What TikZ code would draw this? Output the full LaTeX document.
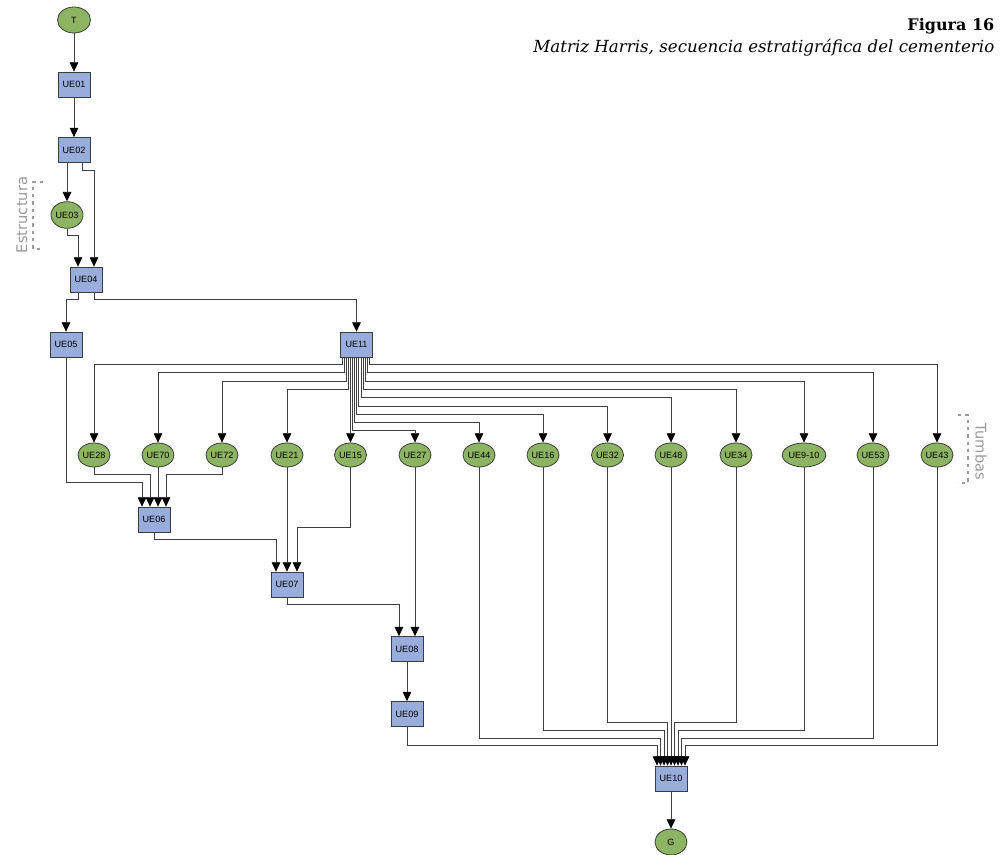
\documentclass[tikz,border=0pt]{standalone}
\usepackage{fontspec}
\newfontfamily\nodofont{Liberation Sans}
\newfontfamily\rotfont{DejaVu Sans}
\newfontfamily\titfont{DejaVu Serif}
\usetikzlibrary{arrows.meta,shapes.geometric}
\definecolor{azulue}{RGB}{152,173,217}
\definecolor{verdeue}{RGB}{141,180,98}
\definecolor{bordeue}{RGB}{60,60,60}
\definecolor{grisrot}{RGB}{155,155,155}
\begin{document}
\begin{tikzpicture}[x=0.75pt,y=-0.75pt,
    caja/.style={rectangle,draw=bordeue,fill=azulue,line width=0.6pt,minimum width=24pt,minimum height=18.75pt,inner sep=0pt,font=\nodofont\fontsize{6.8}{8}\selectfont},
    elipse/.style={ellipse,draw=bordeue,fill=verdeue,line width=0.6pt,minimum width=24pt,minimum height=18pt,inner sep=0pt,font=\nodofont\fontsize{6.8}{8}\selectfont},
    arr/.style={-{Triangle[length=7pt,width=6.5pt,color=black]},draw=black!75,line width=0.6pt},
    rotulo/.style={text=grisrot,font=\rotfont\fontsize{11}{13}\selectfont},
    llave/.style={draw=grisrot,line width=0.8pt,dash pattern=on 2.5pt off 3pt}]
                        \useasboundingbox (0,0) rectangle (1000,855);
                        \node[elipse,minimum width=24.75pt,minimum height=19.5pt] (t) at (74,20) {T};
                        \node[caja] (ue01) at (74,84.5) {UE01};
                        \node[caja] (ue02) at (74,150) {UE02};
                        \node[elipse,minimum height=20pt] (ue03) at (67,215) {UE03};
                        \node[caja] (ue04) at (86,279.5) {UE04};
                        \node[caja] (ue05) at (66,344.5) {UE05};
                        \node[caja] (ue11) at (356.5,344.5) {UE11};
                        \node[elipse] (ue28) at (94,455) {UE28};
                        \node[elipse] (ue70) at (158,455) {UE70};
                        \node[elipse] (ue72) at (222,455) {UE72};
                        \node[elipse] (ue21) at (287,455) {UE21};
                        \node[elipse] (ue15) at (350.5,455) {UE15};
                        \node[elipse] (ue27) at (415,455) {UE27};
                        \node[elipse] (ue44) at (479,455) {UE44};
                        \node[elipse] (ue16) at (543,455) {UE16};
                        \node[elipse] (ue32) at (607.5,455) {UE32};
                        \node[elipse] (ue48) at (671,455) {UE48};
                        \node[elipse] (ue34) at (736,455) {UE34};
                        \node[elipse,minimum width=30pt] (ue910) at (804,455) {UE9-10};
                        \node[elipse] (ue53) at (873,455) {UE53};
                        \node[elipse] (ue43) at (937,455) {UE43};
                        \node[caja] (ue06) at (154,519.5) {UE06};
                        \node[caja] (ue07) at (287,584.5) {UE07};
                        \node[caja] (ue08) at (407,649) {UE08};
                        \node[caja] (ue09) at (407,714) {UE09};
                        \node[caja] (ue10) at (671,778.5) {UE10};
                        \node[elipse,minimum height=19.5pt] (g) at (671,842) {G};
                        \draw[arr] (t) -- (ue01);
                        \draw[arr] (ue01) -- (ue02);
                        \draw[arr] (ue02.south -| ue03) -- (ue03);
                        \draw[arr] ([shift={(8,0)}]ue02.south) -- ++(0,7.5) -| ([shift={(8,0)}]ue04.north);
                        \draw[arr] (ue03.south) -- ++(0,7) -| ([shift={(-8,0)}]ue04.north);
                        \draw[arr] ([shift={(-8,0)}]ue04.south) -- ++(0,7) -| (ue05.north);
                        \draw[arr] ([shift={(8,0)}]ue04.south) -- ++(0,7) -| (ue11.north);
                        \draw[arr] ([shift={(-14.5,0)}]ue11.south) -- ++(0,7) -| (ue28.north);
                        \draw[arr] ([shift={(-12.4,0)}]ue11.south) -- ++(0,15.5) -| (ue70.north);
                        \draw[arr] ([shift={(-10.3,0)}]ue11.south) -- ++(0,24) -| (ue72.north);
                        \draw[arr] ([shift={(-8.2,0)}]ue11.south) -- ++(0,32) -| (ue21.north);
                        \draw[arr] (ue11.south -| ue15) -- (ue15.north);
                        \draw[arr] ([shift={(-4,0)}]ue11.south) -- ++(0,73) -| (ue27.north);
                        \draw[arr] ([shift={(-1.9,0)}]ue11.south) -- ++(0,65.5) -| (ue44.north);
                        \draw[arr] ([shift={(0.2,0)}]ue11.south) -- ++(0,57) -| (ue16.north);
                        \draw[arr] ([shift={(2.3,0)}]ue11.south) -- ++(0,49) -| (ue32.north);
                        \draw[arr] ([shift={(4.4,0)}]ue11.south) -- ++(0,40.5) -| (ue48.north);
                        \draw[arr] ([shift={(6.5,0)}]ue11.south) -- ++(0,32) -| (ue34.north);
                        \draw[arr] ([shift={(8.6,0)}]ue11.south) -- ++(0,24) -| (ue910.north);
                        \draw[arr] ([shift={(10.7,0)}]ue11.south) -- ++(0,15.5) -| (ue53.north);
                        \draw[arr] ([shift={(12.8,0)}]ue11.south) -- ++(0,7) -| (ue43.north);
                        \draw[arr] (ue05.south) -- ++(0,125) -| ([shift={(-12,0)}]ue06.north);
                        \draw[arr] (ue28.south) -- ++(0,7.5) -| ([shift={(-4,0)}]ue06.north);
                        \draw[arr] (ue70.south) -- (ue70.south |- ue06.north);
                        \draw[arr] (ue72.south) -- ++(0,7.5) -| ([shift={(12,0)}]ue06.north);
                        \draw[arr] (ue06.south) -- ++(0,7) -| ([shift={(-11,0)}]ue07.north);
                        \draw[arr] (ue21.south) -- (ue21.south |- ue07.north);
                        \draw[arr] (ue15.south) -- ++(0,60) -| ([shift={(10,0)}]ue07.north);
                        \draw[arr] (ue07.south) -- ++(0,7) -| ([shift={(-8,0)}]ue08.north);
                        \draw[arr] (ue27.south) -- (ue27.south |- ue08.north);
                        \draw[arr] (ue08) -- (ue09);
                        \draw[arr] (ue09.south) -- ++(0,18.5) -| ([shift={(-14,0)}]ue10.north);
                        \draw[arr] (ue44.south) -- ++(0,271) -| ([shift={(-10.5,0)}]ue10.north);
                        \draw[arr] (ue16.south) -- ++(0,263) -| ([shift={(-7,0)}]ue10.north);
                        \draw[arr] (ue32.south) -- ++(0,255) -| ([shift={(-3.5,0)}]ue10.north);
                        \draw[arr] (ue48.south) -- (ue48.south |- ue10.north);
                        \draw[arr] (ue34.south) -- ++(0,255) -| ([shift={(3.5,0)}]ue10.north);
                        \draw[arr] (ue910.south) -- ++(0,263) -| ([shift={(7,0)}]ue10.north);
                        \draw[arr] (ue53.south) -- ++(0,271) -| ([shift={(10.5,0)}]ue10.north);
                        \draw[arr] (ue43.south) -- ++(0,278) -| ([shift={(14,0)}]ue10.north);
                        \draw[arr] (ue10) -- (g);
                        \node[rotulo,rotate=90] (estructura) at (22,215) {Estructura};
                        \node[rotulo,rotate=-90] (tumbas) at (981,452) {Tumbas};
                        \draw[llave] (43,182) -- (33,182) -- (33,249) -- (43,249);
                        \draw[llave] (958,415) -- (968,415) -- (968,483) -- (958,483);
                        \node[anchor=base east,font=\titfont\bfseries\fontsize{12}{14}\selectfont] (figura) at (999,31) {Figura 16};
                        \node[anchor=base east,font=\titfont\itshape\fontsize{12.5}{14}\selectfont] (titulo) at (999,53) {Matriz Harris, secuencia estratigráfica del cementerio};
                    \end{tikzpicture}
\end{document}
